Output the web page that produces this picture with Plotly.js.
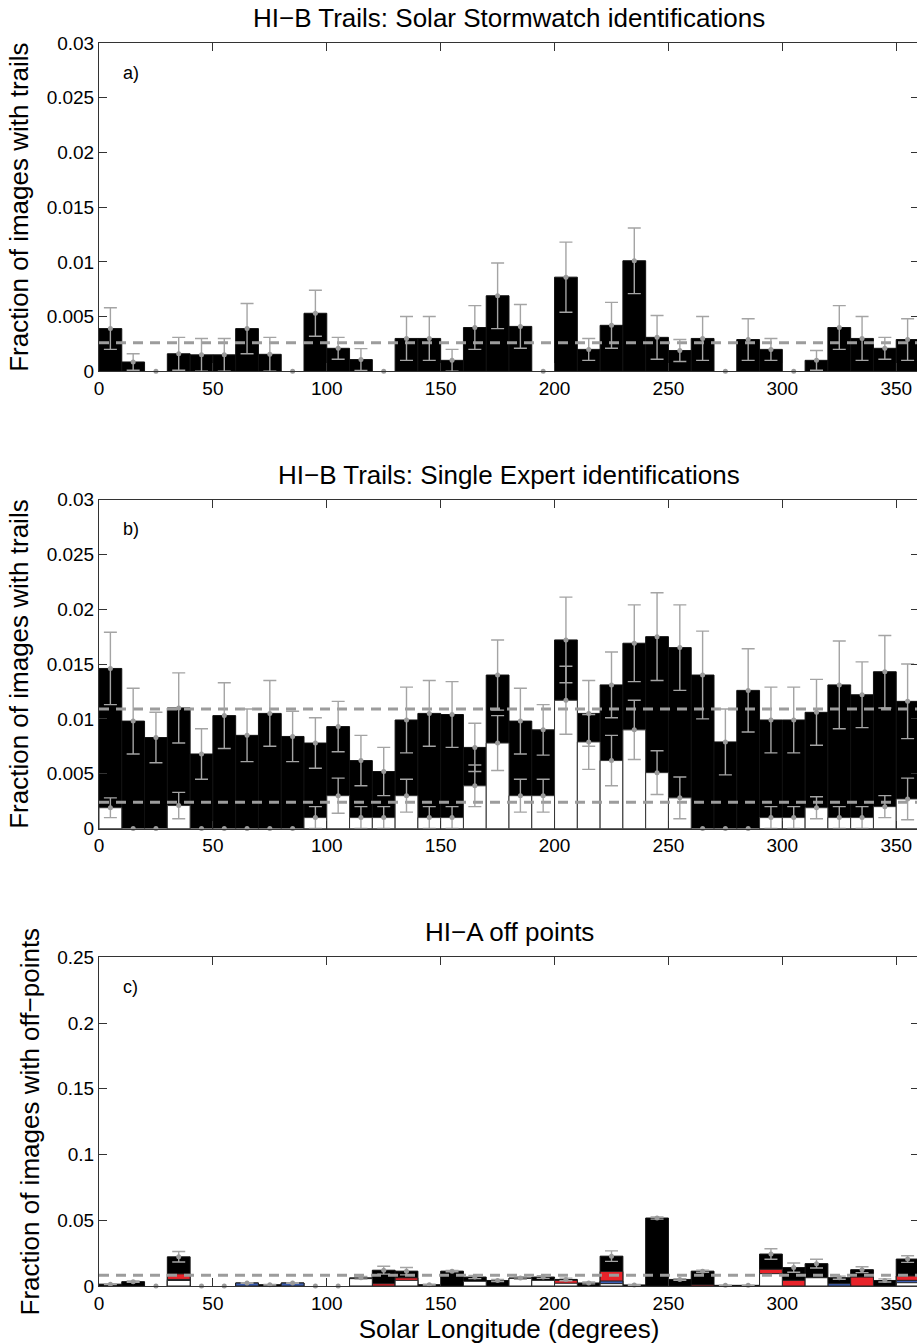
<!DOCTYPE html>
<html>
<head>
<meta charset="utf-8">
<script src="https://cdn.plot.ly/plotly-3.0.1.min.js"></script>
<style>
html, body { margin: 0; padding: 0; overflow: hidden; background: #fff; }
#chart { width: 940px; height: 1344px; }
</style>
</head>
<body>
<div id="chart"></div>
<script>
// ---------- data ----------
const binCenters = [5,15,25,35,45,55,65,75,85,95,105,115,125,135,145,155,165,175,185,195,205,215,225,235,245,255,265,275,285,295,305,315,325,335,345,355];
const binWidth = 10;

// a) Solar Stormwatch identifications
const stormwatch    = [0.0039,0.00085,0,0.0016,0.0015,0.0015,0.0039,0.00155,0,0.0053,0.0021,0.00107,0,0.003,0.003,0.001,0.004,0.0069,0.0041,0,0.0086,0.002,0.0042,0.0101,0.0031,0.0019,0.003,0,0.0029,0.002,0,0.001,0.004,0.003,0.0021,0.0029];
const stormwatchErr = [0.0019,0.00075,0,0.0015,0.0015,0.0015,0.0023,0.00155,0,0.0021,0.001,0.001,0,0.002,0.002,0.001,0.002,0.003,0.002,0,0.0032,0.001,0.0021,0.003,0.002,0.001,0.002,0,0.0019,0.001,0,0.0009,0.002,0.002,0.001,0.0019];
const stormwatchMean = 0.0026;

// b) Single Expert identifications
const expertAll    = [0.0146,0.0098,0.0083,0.011,0.0068,0.0103,0.0085,0.0105,0.0084,0.0078,0.0093,0.0062,0.0052,0.0099,0.0105,0.0104,0.0074,0.014,0.0098,0.009,0.0172,0.0105,0.0131,0.0169,0.0175,0.0165,0.014,0.0079,0.0126,0.0099,0.0099,0.0106,0.0131,0.0122,0.0143,0.0116];
const expertAllErr = [0.0033,0.003,0.0023,0.0032,0.0023,0.003,0.0024,0.003,0.0023,0.0023,0.0023,0.0023,0.0022,0.003,0.003,0.003,0.0022,0.0032,0.003,0.0023,0.0039,0.003,0.003,0.0035,0.004,0.0039,0.004,0.003,0.0038,0.003,0.003,0.003,0.004,0.003,0.0033,0.0034];
const expertSub    = [0.0019,0,0,0.0021,0,0,0,0,0,0.001,0.003,0.001,0.001,0.003,0.001,0.001,0.0039,0.0078,0.003,0.003,0.0117,0.0079,0.0062,0.009,0.0051,0.0028,0,0,0,0.001,0.001,0.0019,0.001,0.001,0.002,0.0027];
const expertSubErr = [0.0009,0,0,0.0012,0,0,0,0,0,0.001,0.0016,0.001,0.001,0.0015,0.001,0.001,0.0019,0.0025,0.0015,0.0015,0.0031,0.0025,0.0023,0.0027,0.002,0.0019,0,0,0,0.001,0.001,0.001,0.001,0.001,0.001,0.0019];
const expertAllMean = 0.0109;
const expertSubMean = 0.0024;

// c) HI-A off points
const offAll    = [0.0014,0.0033,0,0.0222,0,0,0.0023,0.001,0.0023,0,0,0.0062,0.012,0.0113,0.001,0.0113,0.0068,0.0042,0.0061,0.0068,0.005,0.0023,0.0227,0.0008,0.0517,0.005,0.0113,0.0005,0.0005,0.0243,0.014,0.017,0.0063,0.0124,0.0042,0.0205];
const offAllErr = [0.0003,0.0005,0,0.004,0,0,0.0003,0.0002,0.0003,0,0,0.001,0.003,0.0028,0.0003,0.0005,0.0012,0.0008,0.001,0.001,0.001,0.0007,0.004,0.0003,0.0008,0.0006,0.0008,0.0002,0.0002,0.004,0.0035,0.0033,0.0012,0.0022,0.0012,0.0025];
const offRed    = [0,0,0,0.0092,0,0,0,0,0,0,0,0,0.0017,0.0062,0,0,0,0,0,0,0.0043,0,0.011,0,0,0,0.0008,0,0,0.0127,0.0043,0,0,0.0068,0,0.0076];
const offBlue   = [0,0,0,0.005,0,0,0.0023,0,0.0023,0,0,0,0,0,0,0,0,0,0,0,0,0,0.0038,0,0,0,0,0,0,0,0,0,0.0018,0,0,0.0043];
const offWhite  = [0,0,0,0.0042,0,0,0,0,0,0,0,0.0056,0,0.0043,0,0,0.0036,0,0.0058,0.0043,0.0021,0,0.0018,0,0,0,0,0,0,0.0094,0,0.0063,0,0,0,0.0025];
const offMean = 0.0082;

const xRange = [0, 360];
const xTickVals = [0,50,100,150,200,250,300,350];
const xTickText = ['0','50','100','150','200','250','300','350'];
const yTickValsAB = [0,0.005,0.01,0.015,0.02,0.025,0.03];
const yTickTextAB = ['0','0.005','0.01','0.015','0.02','0.025','0.03'];
const yTickValsC = [0,0.05,0.1,0.15,0.2,0.25];
const yTickTextC = ['0','0.05','0.1','0.15','0.2','0.25'];

const titles = ['HI\u2212B Trails: Solar Stormwatch identifications', 'HI\u2212B Trails: Single Expert identifications', 'HI\u2212A off points'];
const panelLabels = ['a)', 'b)', 'c)'];
const yTitles = ['Fraction of images with trails', 'Fraction of images with trails', 'Fraction of images with off\u2212points'];
const xTitle = 'Solar Longitude (degrees)';

// ---------- styling ----------
const FONT = 'Liberation Sans, Arial, Helvetica, sans-serif';
const GRAY_ERR = '#a4a4a4';
const GRAY_DOT = '#9a9a9a';
const GRAY_DASH = '#9c9c9c';
const RED = '#e8232a';
const BLUE = '#3a5cb0';
const TITLE_SIZE = 26;

function nz(arr) { return arr.map(v => v > 0 ? v : null); }

function bars(y, color, xa, ya, lineColor) {
  return { type: 'bar', x: binCenters, y: nz(y), width: binWidth, xaxis: xa, yaxis: ya,
    marker: { color: color, line: { color: lineColor, width: 1 } },
    hoverinfo: 'skip', showlegend: false };
}
function errs(y, e, xa, ya) {
  return { type: 'scatter', mode: 'markers', x: binCenters, y: y, xaxis: xa, yaxis: ya,
    error_y: { type: 'data', array: e.map(v => v > 0 ? v : NaN), visible: true, color: GRAY_ERR, thickness: 1.4, width: 6.5 },
    marker: { color: GRAY_DOT, size: 5 }, cliponaxis: false, hoverinfo: 'skip', showlegend: false };
}
function meanLine(v, xa, ya) {
  return { type: 'scatter', mode: 'lines', x: xRange, y: [v, v], xaxis: xa, yaxis: ya,
    line: { color: GRAY_DASH, width: 3, dash: '10px,7px' }, hoverinfo: 'skip', showlegend: false };
}

const traces = [
  bars(stormwatch, '#000', 'x', 'y', '#111'),
  meanLine(stormwatchMean, 'x', 'y'),
  errs(stormwatch, stormwatchErr, 'x', 'y'),

  bars(expertAll, '#000', 'x2', 'y2', '#111'),
  bars(expertSub, '#fff', 'x2', 'y2', '#333'),
  meanLine(expertAllMean, 'x2', 'y2'),
  meanLine(expertSubMean, 'x2', 'y2'),
  errs(expertAll, expertAllErr, 'x2', 'y2'),
  errs(expertSub, expertSubErr, 'x2', 'y2'),

  bars(offAll, '#000', 'x3', 'y3', '#111'),
  bars(offRed, RED, 'x3', 'y3', '#222'),
  bars(offBlue, BLUE, 'x3', 'y3', '#222'),
  bars(offWhite, '#fff', 'x3', 'y3', '#222'),
  meanLine(offMean, 'x3', 'y3'),
  errs(offAll, offAllErr, 'x3', 'y3')
];

function xAxis(anchor, withTitle) {
  const a = { anchor: anchor, domain: [0, 1], range: xRange, tickmode: 'array', tickvals: xTickVals, ticktext: xTickText,
    ticks: 'inside', ticklen: 8, tickwidth: 1, tickcolor: '#333', showline: true, linecolor: '#333', linewidth: 1,
    mirror: 'ticks', showgrid: false, zeroline: false, tickfont: { family: FONT, size: 19, color: '#000' } };
  if (withTitle) a.title = { text: xTitle, font: { family: FONT, size: TITLE_SIZE, color: '#000' }, standoff: 3 };
  return a;
}
function yAxis(anchor, domain, range, tv, tt, title) {
  return { anchor: anchor, domain: domain, range: range, tickmode: 'array', tickvals: tv, ticktext: tt,
    ticks: 'inside', ticklen: 8, tickwidth: 1, tickcolor: '#333', showline: true, linecolor: '#333', linewidth: 1,
    mirror: 'ticks', showgrid: false, zeroline: false, tickfont: { family: FONT, size: 19, color: '#000' },
    title: { text: title, font: { family: FONT, size: TITLE_SIZE, color: '#000' }, standoff: 10 } };
}

const annotations = [];
const refs = [['x', 'y'], ['x2', 'y2'], ['x3', 'y3']];
refs.forEach((r, i) => {
  annotations.push({ text: titles[i], xref: r[0] + ' domain', yref: r[1] + ' domain', x: 0.5, y: 1,
    xanchor: 'center', yanchor: 'middle', yshift: 25, showarrow: false, font: { family: FONT, size: TITLE_SIZE, color: '#000' } });
  annotations.push({ text: panelLabels[i], xref: r[0] + ' domain', yref: r[1] + ' domain', x: 0.027, y: 0.91,
    xanchor: 'left', yanchor: 'middle', showarrow: false, font: { family: FONT, size: 18, color: '#000' } });
});

const layout = {
  width: 940, height: 1344,
  margin: { l: 98.7, r: 20.5, t: 42.7, b: 58.3 },
  paper_bgcolor: '#fff', plot_bgcolor: '#fff',
  barmode: 'overlay', bargap: 0,
  font: { family: FONT, color: '#000' },
  showlegend: false,
  xaxis: xAxis('y', false),
  xaxis2: xAxis('y2', false),
  xaxis3: xAxis('y3', true),
  yaxis: yAxis('x', [0.7359, 1], [0, 0.03], yTickValsAB, yTickTextAB, yTitles[0]),
  yaxis2: yAxis('x2', [0.368, 0.6327], [0, 0.03], yTickValsAB, yTickTextAB, yTitles[1]),
  yaxis3: yAxis('x3', [0, 0.2644], [0, 0.25], yTickValsC, yTickTextC, yTitles[2]),
  annotations: annotations
};

Plotly.newPlot('chart', traces, layout, { staticPlot: true, displayModeBar: false });
</script>
</body>
</html>
